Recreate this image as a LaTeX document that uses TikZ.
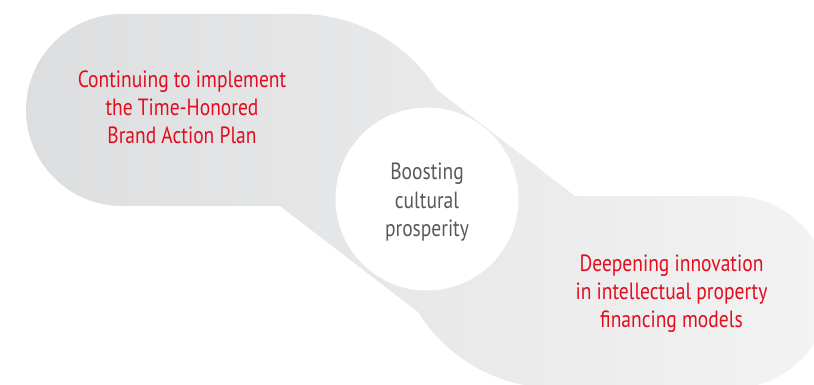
\documentclass[tikz,border=0pt]{standalone}
\usepackage{fontspec}
\newfontfamily\labfont{PT Sans}[FakeStretch=0.83]
\definecolor{labred}{RGB}{226,12,30}
\definecolor{labgrey}{RGB}{88,89,91}
\definecolor{blobL}{RGB}{221,222,223}
\definecolor{blobR}{RGB}{243,243,244}
\begin{document}
\begin{tikzpicture}[x=1pt,y=1pt,
  linetxt/.style={font=\labfont\fontsize{23.5}{28}\selectfont, anchor=base, inner sep=0pt},
  redtxt/.style={linetxt, text=labred},
  greytxt/.style={linetxt, text=labgrey},
  hubdisc/.style={circle, fill=white, minimum size=183pt, inner sep=0pt}]
\useasboundingbox (0,0) rectangle (814,-385);
\clip (0,0) rectangle (814,-385);
% grey band with two rounded blobs
\shade[left color=blobL, right color=blobR]
  (122,-14) -- (300,-14) arc[start angle=90, end angle=32, radius=161.5]
  -- (575,-196) -- (733,-196) arc[start angle=90, end angle=-90, radius=96]
  -- (555,-388) arc[start angle=-90, end angle=-148, radius=161.5]
  -- (280,-206) -- (122,-206) arc[start angle=270, end angle=90, radius=96]
  -- cycle;
\node[hubdisc] (hub) at (427,-199) {};
% left block
\node[redtxt] (l1) at (182,-87.3) {Continuing to implement};
\node[redtxt] (l2) at (182,-115.3) {the Time-Honored};
\node[redtxt] (l3) at (182,-143.3) {Brand Action Plan};
% centre block
\node[greytxt] (c1) at (427,-179.3) {Boosting};
\node[greytxt] (c2) at (427,-208) {cultural};
\node[greytxt] (c3) at (427,-236.7) {prosperity};
% right block
\node[redtxt] (r1) at (671.5,-271.7) {Deepening innovation};
\node[redtxt] (r2) at (671.5,-299.3) {in intellectual property};
\node[redtxt] (r3) at (671.5,-327.3) {financing models};
\end{tikzpicture}
\end{document}
